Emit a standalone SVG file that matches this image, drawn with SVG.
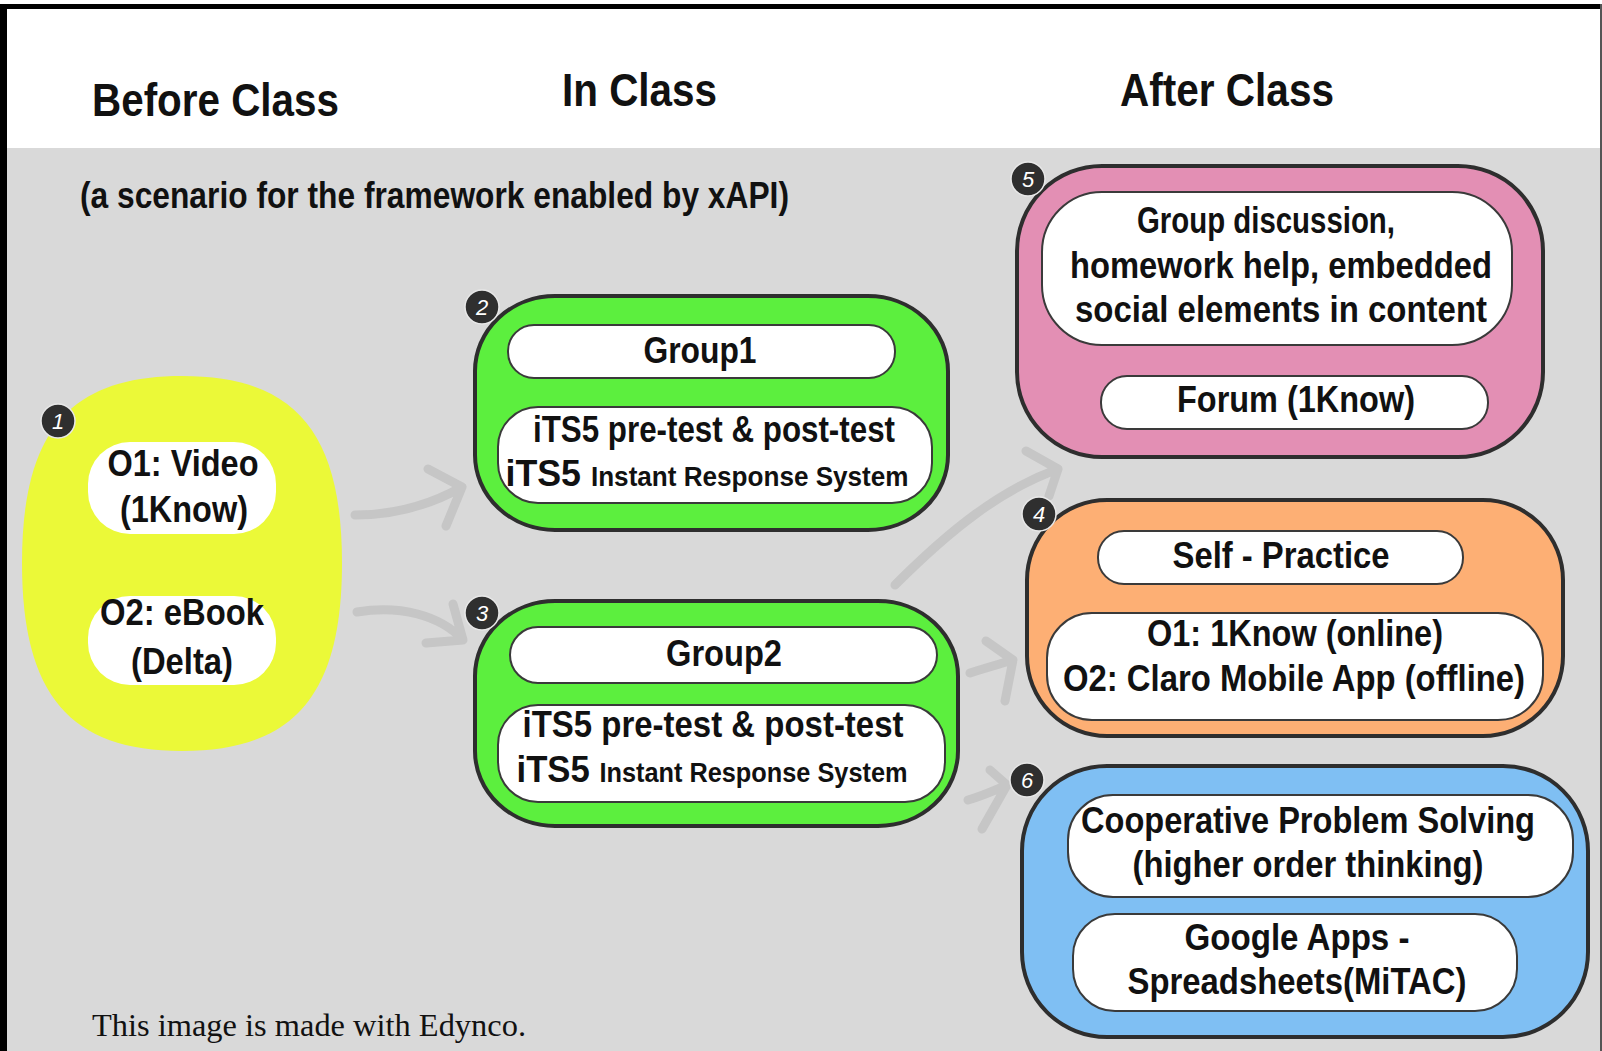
<svg xmlns="http://www.w3.org/2000/svg" width="1602" height="1051" viewBox="0 0 1602 1051">
<style>
.t{font-family:"Liberation Sans",Arial,sans-serif;font-weight:bold;fill:#111}
.h{font-size:47px}
.n{font-size:37px;text-anchor:middle}
.sm{font-size:27px}
.bd{fill:#2f2f2f;stroke:#e8e8e8;stroke-width:1.5}
.bn{font-family:"Liberation Sans",Arial,sans-serif;font-style:italic;font-size:22px;fill:#fff;text-anchor:middle}
.outer{stroke:#2e2e2e;stroke-width:4}
.pill{fill:#fff;stroke:#3a3a3a;stroke-width:2}
.arr{fill:none;stroke:#c6c6c6;stroke-width:9;stroke-linecap:round;stroke-linejoin:round}
</style>
<rect x="0" y="0" width="1602" height="1051" fill="#fff"/>
<rect x="0" y="148" width="1602" height="903" fill="#d9d9d9"/>
<rect x="0" y="4" width="1602" height="5" fill="#000"/>
<rect x="0" y="4" width="7" height="1047" fill="#000"/>
<rect x="1600" y="4" width="2" height="1047" fill="#555"/>

<g id="headers">
<text class="t h" x="92" y="116" textLength="247" lengthAdjust="spacingAndGlyphs">Before Class</text>
<text class="t h" x="562" y="106" textLength="155" lengthAdjust="spacingAndGlyphs">In Class</text>
<text class="t h" x="1120" y="106" textLength="214" lengthAdjust="spacingAndGlyphs">After Class</text>
<text class="t" font-size="37" x="80" y="208" textLength="709" lengthAdjust="spacingAndGlyphs">(a scenario for the framework enabled by xAPI)</text>
<text x="92" y="1036" font-family="Liberation Serif,serif" font-size="32" fill="#111" textLength="434" lengthAdjust="spacingAndGlyphs">This image is made with Edynco.</text>
</g>

<g id="connectors">
<path class="arr" d="M355,515 C392,515 430,505 462,487 M428,469 L462,487 L446,526"/>
<path class="arr" d="M357,612 C400,605 440,615 463,640 M453,604 L463,640 L426,643"/>
<path class="arr" d="M895,585 C950,530 1000,490 1058,469 M1026,451 L1058,469 L1049,496"/>
<path class="arr" d="M970,673 C985,668 1000,664 1013,660 M986,641 L1013,660 L1005,701"/>
<path class="arr" d="M968,800 C985,795 995,790 1007,785 M990,770 L1007,785 L982,829"/>
</g>

<g id="node1">
<path d="M182,376 C294,376 342,431 342,563 C342,695 294,751 182,751 C70,751 22,695 22,563 C22,431 70,376 182,376 Z" fill="#ebf938"/>
<rect x="88" y="442" width="188" height="92" rx="42" fill="#fff"/>
<rect x="88" y="596" width="188" height="89" rx="42" fill="#fff"/>
<text class="t n" x="183" y="476" textLength="151" lengthAdjust="spacingAndGlyphs">O1: Video</text>
<text class="t n" x="184" y="522" textLength="128" lengthAdjust="spacingAndGlyphs">(1Know)</text>
<text class="t n" x="182" y="625" textLength="164" lengthAdjust="spacingAndGlyphs">O2: eBook</text>
<text class="t n" x="182" y="674" textLength="102" lengthAdjust="spacingAndGlyphs">(Delta)</text>
<circle class="bd" cx="58" cy="421" r="17"/><text class="bn" x="58" y="429">1</text>
</g>

<g id="node2">
<rect class="outer" x="475" y="296" width="473" height="234" rx="80" ry="75" fill="#5cef3e"/>
<rect class="pill" x="508" y="325" width="387" height="53" rx="26"/>
<rect class="pill" x="498" y="407" width="434" height="96" rx="40"/>
<text class="t n" x="700" y="363" textLength="113" lengthAdjust="spacingAndGlyphs">Group1</text>
<text class="t n" x="714" y="442" textLength="362" lengthAdjust="spacingAndGlyphs">iTS5 pre-test &amp; post-test</text>
<text class="t n" x="707" y="486" textLength="403" lengthAdjust="spacingAndGlyphs">iTS5 <tspan class="sm">Instant Response System</tspan></text>
<circle class="bd" cx="482" cy="307" r="17"/><text class="bn" x="482" y="315">2</text>
</g>

<g id="node3">
<rect class="outer" x="475" y="601" width="483" height="225" rx="80" ry="75" fill="#5cef3e"/>
<rect class="pill" x="510" y="627" width="427" height="56" rx="28"/>
<rect class="pill" x="498" y="705" width="447" height="97" rx="40"/>
<text class="t n" x="724" y="666" textLength="116" lengthAdjust="spacingAndGlyphs">Group2</text>
<text class="t n" x="713" y="737" textLength="381" lengthAdjust="spacingAndGlyphs">iTS5 pre-test &amp; post-test</text>
<text class="t n" x="712" y="782" textLength="391" lengthAdjust="spacingAndGlyphs">iTS5 <tspan class="sm">Instant Response System</tspan></text>
<circle class="bd" cx="482" cy="613" r="17"/><text class="bn" x="482" y="621">3</text>
</g>

<g id="node5">
<rect class="outer" x="1017" y="166" width="526" height="291" rx="85" ry="85" fill="#e38fb4"/>
<rect class="pill" x="1042" y="192" width="470" height="153" rx="60"/>
<rect class="pill" x="1101" y="376" width="387" height="53" rx="26"/>
<text class="t n" x="1266" y="233" textLength="258" lengthAdjust="spacingAndGlyphs">Group discussion,</text>
<text class="t n" x="1281" y="278" textLength="422" lengthAdjust="spacingAndGlyphs">homework help, embedded</text>
<text class="t n" x="1281" y="322" textLength="412" lengthAdjust="spacingAndGlyphs">social elements in content</text>
<text class="t n" x="1296" y="412" textLength="238" lengthAdjust="spacingAndGlyphs">Forum (1Know)</text>
<circle class="bd" cx="1028" cy="179" r="17"/><text class="bn" x="1028" y="187">5</text>
</g>

<g id="node4">
<rect class="outer" x="1027" y="500" width="536" height="236" rx="80" ry="80" fill="#fdaf74"/>
<rect class="pill" x="1098" y="531" width="365" height="53" rx="26"/>
<rect class="pill" x="1047" y="613" width="496" height="107" rx="45"/>
<text class="t n" x="1281" y="568" textLength="217" lengthAdjust="spacingAndGlyphs">Self - Practice</text>
<text class="t n" x="1295" y="646" textLength="296" lengthAdjust="spacingAndGlyphs">O1: 1Know (online)</text>
<text class="t n" x="1294" y="691" textLength="462" lengthAdjust="spacingAndGlyphs">O2: Claro Mobile App (offline)</text>
<circle class="bd" cx="1039" cy="514" r="17"/><text class="bn" x="1039" y="522">4</text>
</g>

<g id="node6">
<rect class="outer" x="1022" y="766" width="566" height="271" rx="85" ry="85" fill="#7fbff3"/>
<rect class="pill" x="1068" y="795" width="505" height="102" rx="45"/>
<rect class="pill" x="1073" y="914" width="444" height="97" rx="42"/>
<text class="t n" x="1308" y="833" textLength="454" lengthAdjust="spacingAndGlyphs">Cooperative Problem Solving</text>
<text class="t n" x="1308" y="877" textLength="351" lengthAdjust="spacingAndGlyphs">(higher order thinking)</text>
<text class="t n" x="1297" y="950" textLength="225" lengthAdjust="spacingAndGlyphs">Google Apps -</text>
<text class="t n" x="1297" y="994" textLength="339" lengthAdjust="spacingAndGlyphs">Spreadsheets(MiTAC)</text>
<circle class="bd" cx="1027" cy="780" r="17"/><text class="bn" x="1027" y="788">6</text>
</g>
</svg>
